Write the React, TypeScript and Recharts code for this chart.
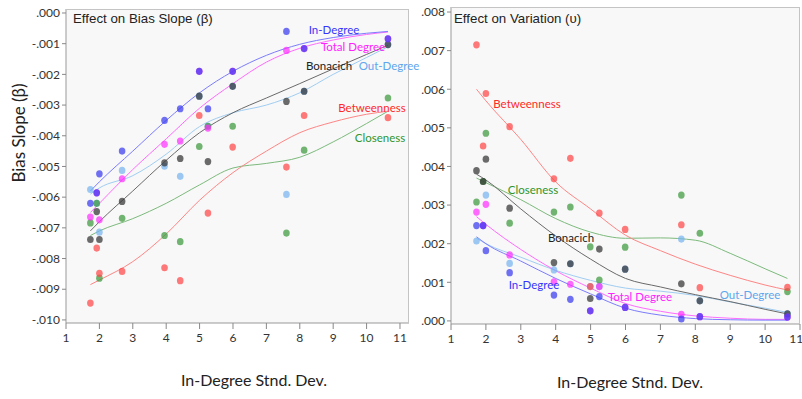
import React from 'react';
import { ComposedChart, Scatter, Line, XAxis, YAxis, CartesianGrid } from 'recharts';

// in-degree standard deviation of each network
const sdX = [1.73, 1.92, 2.0, 2.68, 3.95, 4.42, 4.99, 5.25, 5.99, 7.6, 8.13, 10.64];
const fitX = [1.73, 2, 3, 4, 5, 6, 7, 8, 9, 10, 10.64];
const xTicks = [1, 2, 3, 4, 5, 6, 7, 8, 9, 10, 11];
const slopeTicks = [0, -0.001, -0.002, -0.003, -0.004, -0.005, -0.006, -0.007, -0.008, -0.009, -0.01];
const varTicks = [0, 0.001, 0.002, 0.003, 0.004, 0.005, 0.006, 0.007, 0.008];

// Effect on bias slope - points
const slopeInDegree = [-0.0062, -0.00586, -0.00524, -0.0045, -0.0035, -0.00312, -0.0019, -0.00312, -0.0019, -0.0006, -0.00116, -0.00084];
const slopeTotalDegree = [-0.00665, -0.00586, -0.00674, -0.0054, -0.00428, -0.00417, -0.0019, -0.00375, -0.0019, -0.00122, -0.00116, -0.00084];
const slopeBonacich = [-0.00738, -0.00647, -0.00738, -0.00614, -0.00488, -0.00474, -0.00271, -0.00484, -0.00239, -0.00288, -0.00255, -0.00103];
const slopeOutDegree = [-0.00575, -0.0062, -0.00714, -0.00513, -0.00499, -0.00532, -0.00271, -0.00369, -0.00239, -0.00591, -0.00255, -0.00103];
const slopeBetweenness = [-0.00945, -0.00766, -0.00848, -0.00842, -0.0083, -0.00872, -0.00334, -0.00652, -0.00437, -0.00502, -0.00334, -0.00341];
const slopeCloseness = [-0.00684, -0.0062, -0.00864, -0.00669, -0.00725, -0.00745, -0.00435, -0.00369, -0.00369, -0.00717, -0.00447, -0.00277];

// Effect on bias slope - fitted curves
const slopeFitInDegree = [-0.0058, -0.0055, -0.0045, -0.0035, -0.0026, -0.0019, -0.00138, -0.00102, -0.0008, -0.00066, -0.0006];
const slopeFitTotalDegree = [-0.0065, -0.0062, -0.0051, -0.0041, -0.0031, -0.0023, -0.0016, -0.00115, -0.00088, -0.0007, -0.00062];
const slopeFitBonacich = [-0.0071, -0.0068, -0.0058, -0.0048, -0.0039, -0.00325, -0.00277, -0.0023, -0.00182, -0.00135, -0.00105];
const slopeFitOutDegree = [-0.0059, -0.0057, -0.0053, -0.0046, -0.0037, -0.00325, -0.003, -0.0026, -0.002, -0.00145, -0.0011];
const slopeFitBetweenness = [-0.00885, -0.0087, -0.0081, -0.0072, -0.0061, -0.0052, -0.0045, -0.0039, -0.00355, -0.0033, -0.0032];
const slopeFitCloseness = [-0.00725, -0.0071, -0.0067, -0.0062, -0.0056, -0.00505, -0.0049, -0.0047, -0.0042, -0.0036, -0.0032];

// Effect on variation - points
const varInDegree = [0.00247, 0.00247, 0.00182, 0.00125, 0.00067, 0.00056, 0.00026, 0.00063, 0.00035, 0.00005, 0.00011, 0.0001];
const varTotalDegree = [0.00282, 0.00247, 0.00302, 0.00171, 0.00101, 0.00095, 0.00026, 0.00089, 0.00035, 0.00017, 0.00011, 0.0001];
const varBonacich = [0.00389, 0.00361, 0.00419, 0.00292, 0.00151, 0.00148, 0.00058, 0.00186, 0.00134, 0.00096, 0.00052, 0.00018];
const varOutDegree = [0.00207, 0.00247, 0.00326, 0.00149, 0.00132, 0.00148, 0.00089, 0.00089, 0.00134, 0.00212, 0.00052, 0.00018];
const varBetweenness = [0.00715, 0.00453, 0.00589, 0.00503, 0.00368, 0.00421, 0.00089, 0.00279, 0.00237, 0.00249, 0.00086, 0.00087];
const varCloseness = [0.00308, 0.00361, 0.00486, 0.00253, 0.00282, 0.00295, 0.00192, 0.00106, 0.00191, 0.00326, 0.00227, 0.00076];

// Effect on variation - fitted curves
const varFitInDegree = [0.00218, 0.002, 0.00155, 0.0011, 0.0007, 0.00033, 0.00015, 0.00006, 0.00003, 0.00002, 0.00002];
const varFitTotalDegree = [0.0027, 0.0025, 0.00185, 0.0013, 0.00085, 0.00045, 0.00025, 0.00013, 0.00007, 0.00004, 0.00004];
const varFitBonacich = [0.0038, 0.00365, 0.0029, 0.0022, 0.0016, 0.0011, 0.00088, 0.00068, 0.0005, 0.0003, 0.00018];
const varFitOutDegree = [0.00214, 0.002, 0.00165, 0.00131, 0.00105, 0.00085, 0.00077, 0.00066, 0.00049, 0.00033, 0.00022];
const varFitBetweenness = [0.006, 0.0057, 0.0047, 0.0036, 0.0029, 0.00222, 0.00182, 0.00147, 0.00118, 0.00093, 0.0008];
const varFitCloseness = [0.0037, 0.00358, 0.00314, 0.00265, 0.0023, 0.00214, 0.00215, 0.00209, 0.00175, 0.00135, 0.0011];

const COLORS: any = {
  out: { dot: '#77b4f0', line: '#a0cdf2', text: '#5ea6ee' },
  close: { dot: '#3d9a3d', line: '#7cba7c', text: '#2e952e' },
  betw: { dot: '#ff4848', line: '#ff8585', text: '#ff2a2a' },
  bona: { dot: '#333333', line: '#6a6a6a', text: '#222222' },
  total: { dot: '#ff30ff', line: '#ff6cff', text: '#ff22ff' },
  inDeg: { dot: '#3a3af0', line: '#7c7cff', text: '#3535ff' },
};

const toPts = (xs: number[], ys: number[]) => xs.map((x, i) => ({ x, y: ys[i] }));

const range = (a: number, b: number, step: number) => {
  const out: number[] = [];
  for (let v = a; v <= b + 1e-9; v += step) out.push(+v.toFixed(5));
  return out;
};

const fmt = (v: number) => (v < -1e-9 ? '-' : '') + Math.abs(v).toFixed(3).slice(1);

const tickFont = { fontFamily: 'Lato', fontSize: 12, fill: '#333' };

function Panel(props: any) {
  const { width, yWidth, margin, xDomain, yDomain, yTicks, yMinor, series, order } = props;
  return (
    <ComposedChart width={width} height={399} margin={margin}>
      <CartesianGrid fill="#f8f8f8" horizontal={false} vertical={false} />
      <XAxis xAxisId="minor" type="number" dataKey="x" domain={xDomain} allowDataOverflow
        ticks={range(1, xDomain[1], 0.2)} height={0} axisLine={false} tickSize={3}
        tickLine={{ stroke: '#888' }} tick={() => null} />
      <XAxis type="number" dataKey="x" domain={xDomain} allowDataOverflow ticks={xTicks}
        height={30} tickSize={6} tickMargin={4} axisLine={{ stroke: '#999' }}
        tickLine={{ stroke: '#888' }} tick={tickFont} />
      <YAxis yAxisId="minor" type="number" dataKey="y" domain={yDomain} allowDataOverflow
        ticks={yMinor} width={0} axisLine={false} tickSize={2} tickLine={{ stroke: '#888' }}
        tick={() => null} />
      <YAxis type="number" dataKey="y" domain={yDomain} allowDataOverflow ticks={yTicks}
        width={yWidth} tickSize={4} tickMargin={2} tickFormatter={fmt}
        axisLine={{ stroke: '#999' }} tickLine={{ stroke: '#888' }} tick={tickFont} />
      {order.map((k: string) => (
        <Line key={'l' + k} data={toPts(fitX, series[k].fit)} dataKey="y" type="monotone"
          stroke={COLORS[k].line} strokeWidth={1} dot={false} isAnimationActive={false} />
      ))}
      {order.map((k: string) => (
        <Scatter key={'s' + k} data={toPts(sdX, series[k].pts)} dataKey="y" isAnimationActive={false}
          shape={(p: any) => (
            <ellipse cx={p.cx} cy={p.cy} rx={3.3} ry={3.6} fill={COLORS[k].dot} fillOpacity={0.72} />
          )} />
      ))}
    </ComposedChart>
  );
}

const abs = (x: number, y: number, extra: any = {}) => ({
  position: 'absolute' as const, left: x, top: y, transform: 'translate(-50%,-50%)',
  whiteSpace: 'nowrap' as const, ...extra,
});

const lbl = { fontFamily: 'Lato', fontSize: 11.5 };
const ttl = { fontFamily: 'Liberation Sans', fontSize: 13.3, color: '#222' };
const axTtl = { fontFamily: 'Lato', fontSize: 16, color: '#222' };

export default function App() {
  const order = ['out', 'close', 'betw', 'bona', 'total', 'inDeg'];
  const slopeSeries = {
    out: { pts: slopeOutDegree, fit: slopeFitOutDegree },
    close: { pts: slopeCloseness, fit: slopeFitCloseness },
    betw: { pts: slopeBetweenness, fit: slopeFitBetweenness },
    bona: { pts: slopeBonacich, fit: slopeFitBonacich },
    total: { pts: slopeTotalDegree, fit: slopeFitTotalDegree },
    inDeg: { pts: slopeInDegree, fit: slopeFitInDegree },
  };
  const varSeries = {
    out: { pts: varOutDegree, fit: varFitOutDegree },
    close: { pts: varCloseness, fit: varFitCloseness },
    betw: { pts: varBetweenness, fit: varFitBetweenness },
    bona: { pts: varBonacich, fit: varFitBonacich },
    total: { pts: varTotalDegree, fit: varFitTotalDegree },
    inDeg: { pts: varInDegree, fit: varFitInDegree },
  };

  return (
    <div style={{ position: 'absolute', left: 0, top: 0, width: 802, height: 399, background: '#fff', overflow: 'hidden' }}>
      <div style={{ position: 'absolute', left: 0, top: 0 }}>
        <Panel width={412} yWidth={66} margin={{ top: 9, right: 3, bottom: 46, left: 0 }}
          xDomain={[1, 11.27]} yDomain={[-0.0101, 0.00013]} yTicks={slopeTicks}
          yMinor={range(-0.01, 0, 0.0002)} series={slopeSeries} order={order} />
      </div>
      <div style={{ position: 'absolute', left: 400, top: 0 }}>
        <Panel width={402} yWidth={51} margin={{ top: 7, right: 2, bottom: 45, left: 0 }}
          xDomain={[1, 11]} yDomain={[-0.00008, 0.00813]} yTicks={varTicks}
          yMinor={range(0, 0.008, 0.0001)} series={varSeries} order={order} />
      </div>

      {/* plot frames */}
      <div style={{ position: 'absolute', left: 66, top: 9, width: 343, height: 314, borderTop: '1px solid #c4c4c4', borderRight: '1px solid #c4c4c4', boxSizing: 'border-box' }} />
      <div style={{ position: 'absolute', left: 451, top: 7, width: 349, height: 317, borderTop: '1px solid #c4c4c4', borderRight: '1px solid #c4c4c4', boxSizing: 'border-box' }} />

      {/* left panel texts */}
      <div style={{ ...ttl, position: 'absolute', left: 73, top: 11 }}>Effect on Bias Slope (β)</div>
      <div style={abs(334, 29, { ...lbl, color: COLORS.inDeg.text })}>In-Degree</div>
      <div style={abs(353, 46, { ...lbl, color: COLORS.total.text })}>Total Degree</div>
      <div style={abs(329, 65, { ...lbl, color: COLORS.bona.text })}>Bonacich</div>
      <div style={abs(389, 65, { ...lbl, color: COLORS.out.text })}>Out-Degree</div>
      <div style={abs(372, 107, { ...lbl, color: COLORS.betw.text })}>Betweenness</div>
      <div style={abs(380, 137, { ...lbl, color: COLORS.close.text })}>Closeness</div>
      <div style={abs(18, 133, { ...axTtl, fontSize: 17, transform: 'translate(-50%,-50%) rotate(-90deg)' })}>Bias Slope (β)</div>
      <div style={abs(254, 379, axTtl)}>In-Degree Stnd. Dev.</div>

      {/* right panel texts */}
      <div style={{ ...ttl, position: 'absolute', left: 454, top: 11 }}>Effect on Variation (υ)</div>
      <div style={abs(527, 103, { ...lbl, color: COLORS.betw.text })}>Betweenness</div>
      <div style={abs(533, 189, { ...lbl, color: COLORS.close.text })}>Closeness</div>
      <div style={abs(571, 237, { ...lbl, color: COLORS.bona.text })}>Bonacich</div>
      <div style={abs(534, 284, { ...lbl, color: COLORS.inDeg.text })}>In-Degree</div>
      <div style={abs(640, 296, { ...lbl, color: COLORS.total.text })}>Total Degree</div>
      <div style={abs(750, 294, { ...lbl, color: COLORS.out.text })}>Out-Degree</div>
      <div style={abs(630, 381, axTtl)}>In-Degree Stnd. Dev.</div>
    </div>
  );
}
